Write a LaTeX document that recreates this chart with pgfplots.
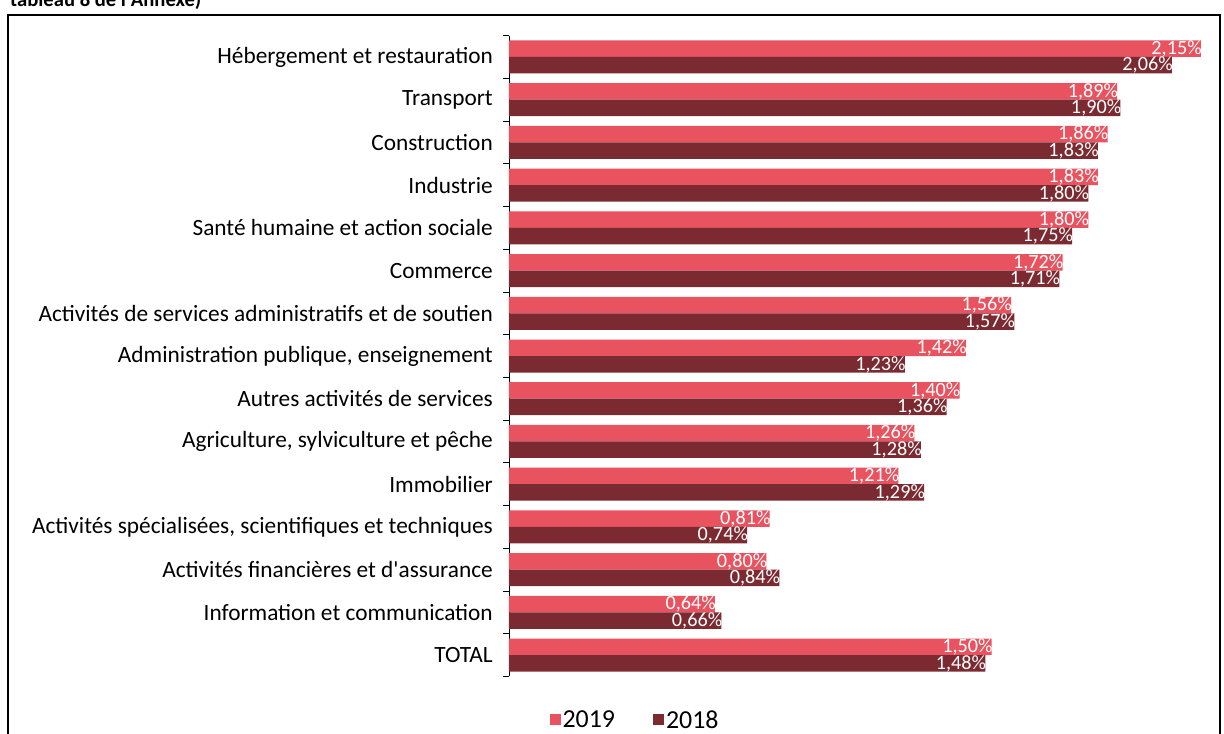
\documentclass[border=0pt]{standalone}
\usepackage{fontspec}
\setmainfont{Carlito}
\usepackage{pgfplots}
\usepackage{pgfplotstable}
\pgfplotsset{compat=1.18}
\definecolor{c2019}{HTML}{E9525F}
\definecolor{c2018}{HTML}{7C2A31}

% idx: 0 = Hébergement ... 14 = TOTAL
\pgfplotstableread{
idx v2019 v2018
0  2.15 2.06
1  1.89 1.90
2  1.86 1.83
3  1.83 1.80
4  1.80 1.75
5  1.72 1.71
6  1.56 1.57
7  1.42 1.23
8  1.40 1.36
9  1.26 1.28
10 1.21 1.29
11 0.81 0.74
12 0.80 0.84
13 0.64 0.66
14 1.50 1.48
}\taux

\begin{document}
\begin{tikzpicture}
\useasboundingbox (-509bp,35.6bp) rectangle (715bp,-698.4bp);
\begin{axis}[
  at={(0,0)}, anchor=north west,
  scale only axis, width=708bp, height=640.8bp,
  xbar=0pt, bar width=16.5bp,
  xmin=0, xmax=2.2, ymin=-0.5, ymax=14.5, y dir=reverse,
  axis x line=none, axis y line*=left,
  axis line style={black, line width=0.8bp},
  ytick={0,...,14},
  yticklabels={H\'ebergement et restauration, Transport, Construction, Industrie,
    Sant\'e humaine et action sociale, Commerce,
    Activit\'es de services administratifs et de soutien,
    {Administration publique, enseignement}, Autres activit\'es de services,
    {Agriculture, sylviculture et p\^eche}, Immobilier,
    {Activit\'es sp\'ecialis\'ees, scientifiques et techniques},
    Activit\'es financi\`eres et d\textquotesingle assurance, Information et communication, TOTAL},
  minor ytick={-0.5,0.5,...,14.5},
  major tick length=0pt, minor tick length=6bp, tick align=outside,
  tick style={black, line width=0.8bp},
  yticklabel style={font=\fontsize{23.4}{26}\selectfont, inner sep=0pt, xshift=-16bp},
  point meta=x,
  nodes near coords={\pgfmathprintnumber[assume math mode=true,fixed,fixed zerofill,precision=2,use comma]{\pgfplotspointmeta}\%},
  every node near coord/.append style={anchor=east, text=white, font=\fontsize{20.3}{21}\selectfont,
    inner sep=0pt, xshift=1bp, text height=13bp, text depth=1.5bp},
  legend columns=2,
  legend image code/.code={\fill[#1] (0bp,-5.5bp) rectangle (11bp,5.5bp);},
  legend style={at={(0.178,-0.068)}, anchor=center, draw=none, fill=none,
    font=\fontsize{26}{28}\selectfont,
    /tikz/every even column/.append style={column sep=36bp}},
]
\addplot[fill=c2019, draw=none, bar shift=8.25bp] table[x=v2019, y=idx] {\taux};
\addplot[fill=c2018, draw=none, bar shift=-8.25bp] table[x=v2018, y=idx] {\taux};
\legend{2019, 2018}
\end{axis}
\draw[line width=1.5bp] (-501bp,-720bp) -- (-501bp,20.6bp) -- (711bp,20.6bp) -- (711bp,-720bp);
\node[anchor=base west, inner sep=0pt, font=\bfseries\fontsize{20.7}{22}\selectfont] at (-499bp,29bp) {tableau 8 de l\textquotesingle Annexe)};
\end{tikzpicture}
\end{document}
